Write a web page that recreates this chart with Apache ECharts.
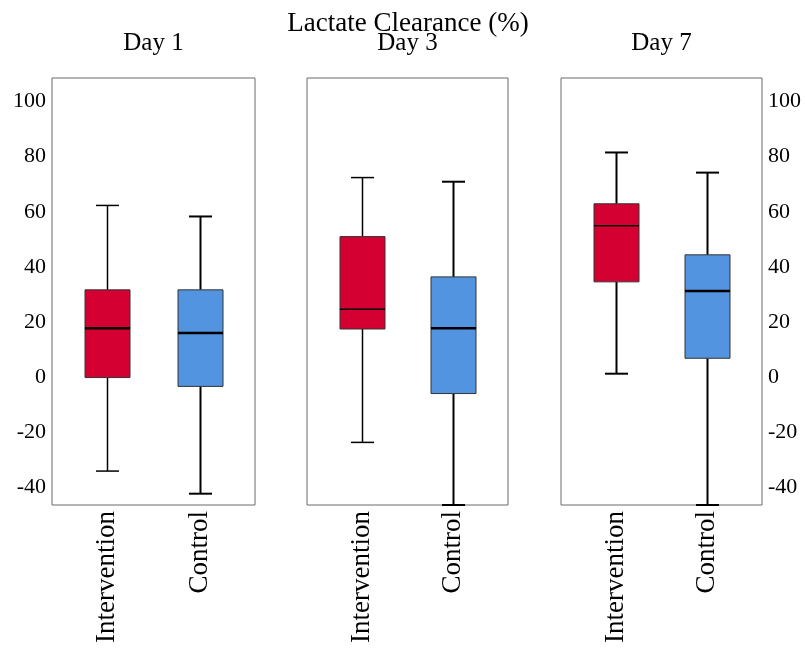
<!DOCTYPE html>
<html><head><meta charset="utf-8">
<script src="https://cdn.jsdelivr.net/npm/echarts@6/dist/echarts.min.js"></script>
<style>html,body{margin:0;padding:0;background:#fff}#c{width:805px;height:648px}</style>
</head><body><div id="c"></div>
<script>
const chartTitle = 'Lactate Clearance (%)';
const days = ['Day 1', 'Day 3', 'Day 7'];
const groups = ['Intervention', 'Control'];
const yTicks = [-40, -20, 0, 20, 40, 60, 80, 100];
// box statistics: [min, Q1, median, Q3, max]
const interventionStats = [
  [-34.0, -0.1, 17.8, 31.7, 62.3],
  [-23.6, 17.5, 24.7, 51.0, 72.4],
  [1.3, 34.6, 54.9, 62.9, 81.5]
];
const controlStats = [
  [-42.2, -3.3, 16.1, 31.7, 58.3],
  [-46.3, -5.9, 17.8, 36.4, 70.9],
  [-46.3, 6.9, 31.3, 44.4, 74.2]
];
const yMin = -46.3, yMax = 108.5;

const FONT = '"Liberation Serif","Times New Roman",serif';
const panels = [{left: 52, width: 203}, {left: 307, width: 201}, {left: 561, width: 201}];
const colors = ['#D50032', '#5394E0'];

function makeRender(fill, whiskerW, medianW) {
  return function (params, api) {
    const x = api.value(0);
    const pMin = api.coord([x, api.value(1)]);
    const pQ1 = api.coord([x, api.value(2)]);
    const pMed = api.coord([x, api.value(3)]);
    const pQ3 = api.coord([x, api.value(4)]);
    const pMax = api.coord([x, api.value(5)]);
    const cx = Math.round(pMin[0]) + 0.5;
    const hw = 22.5, cw = 11.5;
    const ls = {stroke: '#000', lineWidth: whiskerW};
    return {
      type: 'group',
      children: [
        {type: 'line', shape: {x1: cx, y1: pQ3[1], x2: cx, y2: pMax[1]}, style: ls},
        {type: 'line', shape: {x1: cx, y1: pQ1[1], x2: cx, y2: pMin[1]}, style: ls},
        {type: 'line', shape: {x1: cx - cw, y1: pMax[1], x2: cx + cw, y2: pMax[1]}, style: ls},
        {type: 'line', shape: {x1: cx - cw, y1: pMin[1], x2: cx + cw, y2: pMin[1]}, style: ls},
        {type: 'rect', shape: {x: cx - hw, y: pQ3[1], width: 2 * hw, height: pQ1[1] - pQ3[1]},
          style: {fill: fill, stroke: '#333', lineWidth: 1}},
        {type: 'line', shape: {x1: cx - hw, y1: pMed[1], x2: cx + hw, y2: pMed[1]},
          style: {stroke: '#000', lineWidth: medianW}}
      ]
    };
  };
}

const grids = [], xAxes = [], yAxes = [], series = [], titles = [];
titles.push({text: chartTitle, left: 408, top: 10, padding: 0, textAlign: 'center',
  textStyle: {fontFamily: FONT, fontSize: 27, fontWeight: 'normal', color: '#000'}});
days.forEach((d, i) => {
  const p = panels[i];
  grids.push({left: p.left, top: 78, width: p.width, height: 427, show: true,
    borderColor: '#6a6a6a', borderWidth: 1, backgroundColor: 'transparent'});
  titles.push({text: d, left: p.left + p.width / 2, top: 31, padding: 0, textAlign: 'center',
    textStyle: {fontFamily: FONT, fontSize: 25, fontWeight: 'normal', color: '#000'}});
  xAxes.push({type: 'value', gridIndex: i, min: -0.6, max: 1.6,
    axisLine: {show: false}, axisTick: {show: false}, splitLine: {show: false},
    axisLabel: {customValues: [0, 1], rotate: 90, margin: 6, formatter: v => groups[Math.round(v)] || '',
      fontFamily: FONT, fontSize: 27, color: '#000'}});
  const showLabels = i !== 1;
  yAxes.push({type: 'value', gridIndex: i, min: yMin, max: yMax, position: i === 2 ? 'right' : 'left',
    axisLine: {show: false}, axisTick: {show: false}, splitLine: {show: false},
    axisLabel: {show: showLabels, customValues: yTicks, margin: 6, fontFamily: FONT, fontSize: 22, color: '#000'}});
  series.push({type: 'custom', xAxisIndex: i, yAxisIndex: i, clip: false,
    encode: {x: 0, y: [1, 2, 3, 4, 5]},
    renderItem: makeRender(colors[0], i === 2 ? 2 : 1.5, i === 0 ? 2.5 : 1.5),
    data: [[0].concat(interventionStats[i])]});
  series.push({type: 'custom', xAxisIndex: i, yAxisIndex: i, clip: false,
    encode: {x: 0, y: [1, 2, 3, 4, 5]},
    renderItem: makeRender(colors[1], 2, 2.5),
    data: [[1].concat(controlStats[i])]});
});

const chart = echarts.init(document.getElementById('c'), null, {renderer: 'canvas'});
chart.setOption({
  animation: false,
  backgroundColor: '#fff',
  title: titles,
  grid: grids,
  xAxis: xAxes,
  yAxis: yAxes,
  series: series
});
</script>
</body></html>
